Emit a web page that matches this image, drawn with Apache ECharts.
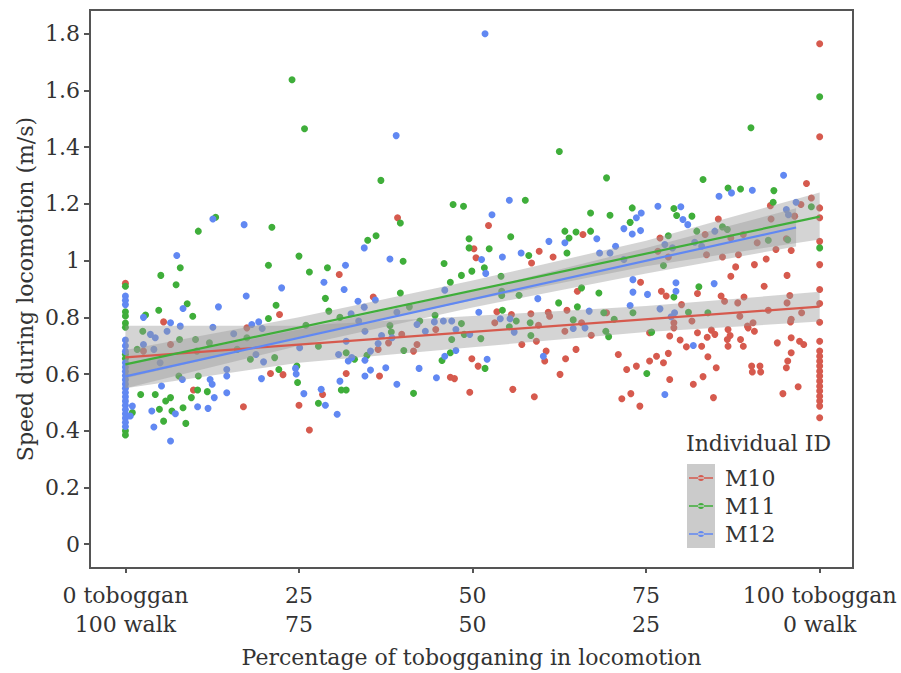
<!DOCTYPE html>
<html>
<head>
<meta charset="utf-8">
<script src="https://cdn.jsdelivr.net/npm/echarts@6/dist/echarts.min.js"></script>
<style>html,body{margin:0;padding:0;background:#fff}#c{width:901px;height:673px}</style>
</head>
<body>
<div id="c"></div>
<script>
// ---------- DATA ----------
// [percentage of tobogganing, speed m/s]
const m10Points = [
[0,0.92],[5.5,0.784],[6.5,0.704],[2.6,0.681],[9.8,0.544],[17.5,0.763],[17.0,0.485],[20.9,0.602],[22.7,0.598],[22.2,0.81],
[39.2,1.151],[30.8,0.951],[35.7,0.872],[44.7,0.757],[42.0,0.704],[41.5,0.681],[39.8,0.74],[37.9,0.71],[36.4,0.687],[36.6,0.593],[31.8,0.602],[46.8,0.589],[47.4,0.584],[28.4,0.528],[25.0,0.49],[26.5,0.403],
[52.3,1.124],[50.2,1.042],[50.5,1.01],[58.5,0.992],[59.6,1.033],[61.6,1.013],[65.9,1.092],[65.1,0.892],[63.6,0.825],[53.5,0.82],[55.6,0.81],[58.4,0.813],[60.9,0.818],[61.1,0.804],[53.2,0.781],[59.5,0.772],[59.2,0.716],[57.1,0.704],[65.7,0.781],[63.3,0.751],[67.1,0.737],[69.3,0.816],[64.9,0.687],[60.6,0.681],[60.4,0.646],[63.4,0.654],[62.6,0.599],[71.0,0.669],[72.2,0.616],[73.6,0.628],[49.9,0.654],[50.8,0.628],[49.6,0.536],[55.8,0.546],[58.9,0.52],[71.5,0.513],[72.8,0.531],[74.1,0.487],
[98.1,1.272],[85.4,1.147],[92.9,1.194],[93.0,1.147],[97.3,1.198],[96.4,1.157],[77.0,1.08],[76.7,1.033],[78.2,1.013],[83.5,1.092],[83.7,1.021],[86.0,1.013],[87.2,1.08],[88.3,1.021],[89.0,1.092],[91.0,1.063],[93.7,1.039],[95.2,1.077],[95.9,1.036],[92.3,1.006],[87.9,0.978],[87.2,0.945],[90.6,0.986],[95.3,0.948],[92.0,0.91],[74.2,0.924],[77.2,0.892],[77.9,0.875],[82.4,0.884],[85.8,0.875],[86.3,0.857],[89.1,0.872],[88.2,0.851],[95.7,0.877],[95.3,0.851],[80.1,0.845],[79.0,0.781],[79.0,0.763],[81.6,0.787],[88.5,0.804],[90.4,0.781],[89.7,0.763],[92.6,0.825],[95.8,0.784],[97.4,0.816],[75.5,0.746],[78.4,0.734],[79.9,0.72],[82.4,0.746],[83.8,0.73],[84.4,0.755],[84.9,0.74],[86.8,0.757],[87.1,0.736],[89.6,0.769],[90.6,0.751],[83.0,0.698],[80.8,0.696],[88.6,0.722],[89.0,0.698],[86.7,0.722],[86.8,0.698],[93.9,0.71],[95.9,0.728],[97.1,0.716],[97.7,0.704],[78.2,0.673],[76.5,0.663],[75.5,0.646],[83.9,0.661],[77.5,0.64],[85.1,0.622],[90.2,0.628],[90.3,0.607],[91.4,0.628],[91.5,0.607],[95.4,0.646],[95.2,0.622],[78.4,0.581],[83.2,0.591],[81.8,0.564],[96.9,0.555],[94.7,0.531],[84.7,0.517],
[98.8,1.221],[95.9,0.793],[95.9,0.675],
[100,1.765],[100,1.437],[100,1.186],[100,1.151],[100,1.068],[100,0.986],[100,0.898],[100,0.849],[100,0.783],[100,0.716],[100,0.681],[100,0.663],[100,0.645],[100,0.628],[100,0.61],[100,0.593],[100,0.575],[100,0.557],[100,0.54],[100,0.522],[100,0.505],[100,0.487],[100,0.446]
];
const m11Points = [
[0,0.91],[0,0.82],[0,0.805],[0,0.78],[0,0.765],[0,0.67],[0,0.655],[0,0.40],[0,0.385],
[1.0,0.464],[2.9,0.808],[1.7,0.687],[2.5,0.751],[4.8,0.825],[5.1,0.948],[7.3,0.915],[7.9,0.975],[8.9,0.848],[9.7,0.804],[7.8,0.722],[10.5,1.104],[13.0,1.153],[21.1,1.118],[20.6,0.984],[21.7,0.843],[20.6,0.796],[10.1,0.722],[12.1,0.71],[17.5,0.728],[10.5,0.593],[7.7,0.593],[2.2,0.528],[4.3,0.528],[5.8,0.505],[6.5,0.517],[4.9,0.476],[5.5,0.434],[6.7,0.47],[8.3,0.481],[8.7,0.426],[9.5,0.517],[10.4,0.544],[11.8,0.538],[22.1,0.616],[21.5,0.658],[18.0,0.652],[16.1,0.687],[10.3,0.681],
[36.8,1.283],[47.2,1.198],[48.7,1.192],[39.6,1.133],[36.1,1.088],[34.9,1.072],[40.0,0.998],[25.0,1.016],[26.5,0.96],[29.1,0.975],[28.8,0.867],[29.3,0.822],[39.6,0.886],[45.9,0.99],[46.8,0.924],[48.4,0.948],[30.9,0.80],[26.0,0.772],[38.1,0.771],[42.4,0.787],[40.9,0.837],[44.6,0.807],[47.0,0.722],[40.1,0.683],[38.3,0.748],[31.8,0.675],[33.0,0.652],[34.8,0.666],[45.6,0.648],[46.8,0.675],[41.5,0.532],[31.1,0.544],[31.8,0.544],[27.8,0.497],[24.8,0.57],[24.7,0.628],[27.8,0.698],
[24.0,1.638],[25.8,1.465],
[62.5,1.385],[69.3,1.292],[57.6,1.213],[67.0,1.168],[69.8,1.16],[73.0,1.186],[72.7,1.135],[49.5,1.077],[49.5,1.045],[52.4,1.042],[55.5,1.084],[58.1,1.018],[63.6,1.027],[63.9,1.08],[63.3,1.104],[64.9,1.101],[67.0,1.104],[73.1,0.816],[49.9,0.963],[51.7,0.975],[54.1,0.945],[54.2,0.892],[54.2,0.877],[56.7,0.878],[62.4,0.851],[65.7,0.904],[68.2,0.886],[65.1,0.837],[68.9,0.816],[54.3,0.825],[56.3,0.787],[58.3,0.781],[55.3,0.767],[48.4,0.778],[48.8,0.74],[51.2,0.725],[58.4,0.736],[64.5,0.791],[69.2,0.751],[69.6,0.732],[70.4,0.793],[51.8,0.62],
[83.2,1.286],[86.8,1.256],[88.6,1.253],[93.4,1.247],[93.3,1.206],[79.0,1.184],[81.6,1.157],[79.4,1.159],[86.0,1.119],[86.7,1.11],[82.3,1.104],[98.8,1.19],[78.2,1.088],[77.5,0.983],[92.6,1.072],[95.4,1.074],[79.0,0.872],[82.6,0.908],[81.1,0.818],[83.9,0.816],[75.8,0.748],[75.1,0.602],
[90.1,1.469],[100,1.578],[100,1.045]
];
const m12Points = [
[0,0.875],[0,0.86],[0,0.845],[0,0.72],[0,0.70],[0,0.68],[0,0.64],[0,0.625],[0,0.61],[0,0.595],[0,0.58],[0,0.565],[0,0.55],[0,0.535],[0,0.52],[0,0.505],[0,0.49],[0,0.475],[0,0.46],[0,0.445],[0,0.43],[0,0.415],
[1,0.487],[0.7,0.452],[2.6,0.80],[2.6,0.704],[3.6,0.74],[4.3,0.728],[6.0,0.751],[6.5,0.781],[7.4,1.018],[8.3,0.831],[7.9,0.769],[12.6,1.147],[17.1,1.127],[17.4,0.875],[13.4,0.837],[22.5,0.904],[18.2,0.775],[19.2,0.784],[19.7,0.761],[12.6,0.765],[15.6,0.742],[5.0,0.64],[4.1,0.687],[12.2,0.581],[12.5,0.564],[14.6,0.616],[14.6,0.593],[8.2,0.581],[5.2,0.558],[3.8,0.47],[4.1,0.413],[7.2,0.46],[6.5,0.364],[10.4,0.485],[11.9,0.479],[12.8,0.517],[14.6,0.534],[19.6,0.584],[19.9,0.643],[18.8,0.669],
[34.4,1.045],[38.1,1.006],[31.7,0.984],[28.6,0.924],[31.5,0.898],[36.0,0.861],[33.5,0.857],[46.0,0.896],[34.4,0.836],[32.5,0.813],[33.6,0.787],[39.1,0.818],[42.0,0.775],[44.5,0.784],[45.8,0.787],[47.0,0.787],[43.2,0.751],[47.6,0.757],[36.4,0.708],[38.4,0.728],[36.9,0.736],[31.8,0.716],[34.5,0.751],[30.7,0.669],[32.1,0.646],[32.6,0.658],[34.5,0.649],[35.3,0.681],[37.5,0.622],[35.3,0.614],[34.5,0.593],[30.9,0.575],[39.1,0.564],[42.3,0.62],[46.0,0.663],[47.6,0.683],[44.8,0.587],[28.2,0.546],[28.8,0.49],[25.7,0.531],[30.5,0.458],[24.5,0.62],[24.6,0.60],[25.1,0.693],
[51.8,1.80],[39.0,1.441],
[55.3,1.213],[52.8,1.162],[73.6,1.151],[71.8,1.113],[73.0,1.094],[51.3,1.004],[54.3,1.013],[57.0,1.027],[61.0,1.068],[63.3,1.063],[67.9,1.077],[68.3,1.027],[69.8,1.027],[70.6,1.051],[71.8,1.004],[73.1,0.933],[73.1,0.889],[72.7,0.842],[51.9,0.955],[59.4,0.866],[66.8,0.822],[50.9,0.818],[54.0,0.795],[55.4,0.795],[56.0,0.748],[49.6,0.74],[66.2,0.763],[64.5,0.761],[60.2,0.663],[52.1,0.652],
[94.8,1.301],[85.5,1.227],[87.3,1.239],[90.3,1.248],[76.7,1.192],[80.0,1.19],[74.3,1.168],[80.3,1.145],[81.0,1.127],[74.2,1.106],[84.9,1.104],[95.2,1.18],[95.5,1.162],[96.6,1.206],[77.7,1.057],[78.8,1.045],[82.0,1.065],[83.0,1.051],[79.3,0.922],[79.3,0.892],[75.2,0.881],[84.8,0.919],[77.0,0.83],[79.1,0.816],[78.6,0.802],[81.8,0.701],[77.7,0.528]
];
// fitted lines [x, speed]
const m10Fit = [[0,0.659],[100,0.838]];
const m11Fit = [[0,0.634],[100,1.155]];
const m12Fit = [[0,0.592],[96.6,1.117]];
// confidence bands [x, lower, upper]
const m10Band = [[0,0.55,0.77],[25,0.64,0.77],[50,0.695,0.805],[75,0.748,0.84],[100,0.785,0.89]];
const m11Band = [[0,0.585,0.685],[25,0.73,0.80],[50,0.86,0.93],[75,0.98,1.07],[100,1.075,1.24]];
const m12Band = [[0,0.55,0.635],[25,0.70,0.757],[50,0.835,0.893],[75,0.955,1.045],[96.6,1.05,1.185]];
// axes
const xTickValues = [0,25,50,75,100];
const xTickLabels = ['0 toboggan\n100 walk','25\n75','50\n50','75\n25','100 toboggan\n0 walk'];
const yTickValues = [0,0.2,0.4,0.6,0.8,1,1.2,1.4,1.6,1.8];
const seriesNames = ['M10','M11','M12'];
const colors = ['#d65a4e','#3fae3a','#6188f2'];

// ---------- CHART ----------
const FONT = 'DejaVu Serif';
const TXT = '#333333';
const AX = '#555555';
const chart = echarts.init(document.getElementById('c'), null, {renderer:'svg'});

function bandSeries(band){
  return {
    type:'custom', coordinateSystem:'cartesian2d', z:3, silent:true,
    data:[[band[0][0], band[0][1]]],
    renderItem:function(params, api){
      const pts = band.map(b=>api.coord([b[0], b[2]]));
      const low = band.slice().reverse().map(b=>api.coord([b[0], b[1]]));
      return {type:'polygon', shape:{points:pts.concat(low)}, style:{fill:'rgba(153,153,153,0.42)'}};
    }
  };
}
const pts = [m10Points, m11Points, m12Points];
const fits = [m10Fit, m11Fit, m12Fit];
const bands = [m10Band, m11Band, m12Band];
const series = [];
for (let i=0;i<3;i++){
  series.push({type:'scatter', name:seriesNames[i], data:pts[i], symbolSize:7, z:2,
    itemStyle:{color:colors[i], opacity:1}});
}
for (let i=0;i<3;i++) series.push(bandSeries(bands[i]));
for (let i=0;i<3;i++){
  series.push({type:'line', name:seriesNames[i], data:fits[i], showSymbol:false, z:4,
    lineStyle:{color:colors[i], width:2.2}, itemStyle:{color:colors[i]}});
}

const legendIcon = 'path://M0,3.3L24,3.3L24,4.7L0,4.7Z M9,4a3,3 0 1,0 6,0a3,3 0 1,0 -6,0Z';

chart.setOption({
  animation:false,
  backgroundColor:'#ffffff',
  grid:{left:90, right:48, top:10, bottom:104, show:true, borderColor:AX, borderWidth:2, backgroundColor:'transparent'},
  title:{text:'Individual ID', left:686, top:432, padding:0,
    textStyle:{fontFamily:FONT, fontSize:22, fontWeight:'normal', color:TXT}},
  legend:{orient:'vertical', left:689, top:467, padding:0, itemGap:6, itemWidth:24, itemHeight:8,
    data:seriesNames.map(n=>({name:n, icon:legendIcon})),
    textStyle:{fontFamily:FONT, fontSize:22, color:TXT, lineHeight:21, padding:[0,0,0,7]},
    selectedMode:false},
  graphic:[{type:'rect', left:687, top:464, shape:{width:28, height:84}, style:{fill:'#cbcbcb'}, z:-1}],
  xAxis:{type:'value', min:-5.1, max:104.8,
    name:'Percentage of tobogganing in locomotion', nameLocation:'middle', nameGap:78, nameMoveOverlap:false,
    nameTextStyle:{fontFamily:FONT, fontSize:22, color:TXT},
    axisLine:{show:true, onZero:false, lineStyle:{color:AX, width:2}},
    axisTick:{show:true, inside:false, length:5, customValues:xTickValues, lineStyle:{color:AX, width:2}},
    axisLabel:{customValues:xTickValues, margin:13, fontFamily:FONT, fontSize:22, color:TXT, lineHeight:29,
      formatter:function(v){ const k = xTickValues.indexOf(v); return k>=0 ? xTickLabels[k] : ''; }},
    splitLine:{show:false}},
  yAxis:{type:'value', min:-0.084, max:1.884,
    name:'Speed during locomotion (m/s)', nameLocation:'middle', nameGap:54, nameMoveOverlap:false,
    nameTextStyle:{fontFamily:FONT, fontSize:22, color:TXT},
    axisLine:{show:true, onZero:false, lineStyle:{color:AX, width:2}},
    axisTick:{show:true, inside:false, length:6, customValues:yTickValues, lineStyle:{color:AX, width:2}},
    axisLabel:{customValues:yTickValues, margin:10, fontFamily:FONT, fontSize:22, color:TXT,
      formatter:function(v){ return String(Number(v.toFixed(1))); }},
    splitLine:{show:false}},
  series:series
});
</script>
</body>
</html>
